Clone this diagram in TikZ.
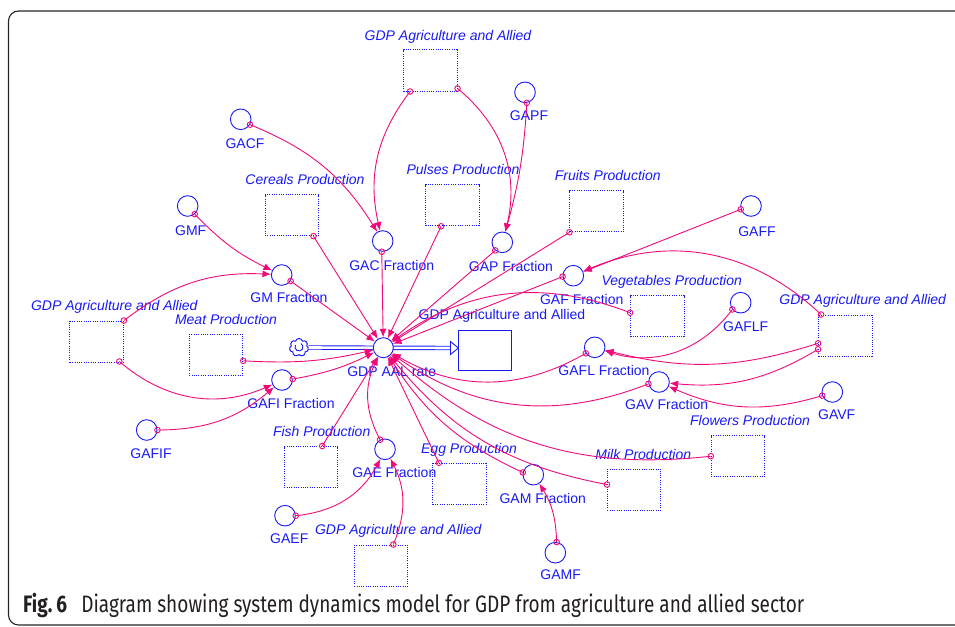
\documentclass[tikz,border=0pt]{standalone}
\usepackage{fontspec}
\setmainfont{Liberation Sans}
\newfontfamily\capfont[FakeStretch=0.8]{Fira Sans}
\usetikzlibrary{arrows.meta,calc,shapes.symbols}
\definecolor{vblue}{RGB}{25,25,245}
\definecolor{vpink}{RGB}{240,10,120}
\definecolor{capgray}{RGB}{35,31,32}

\begin{document}
\begin{tikzpicture}[x=1pt,y=1pt,
  lbl/.style={text=vblue, font=\fontsize{14}{16}\selectfont, inner sep=0pt,
    text height=0.716em, text depth=0pt, anchor=center, yshift=-1.5pt},
  ilbl/.style={lbl, font=\fontsize{14}{16}\selectfont\itshape},
  aux/.style={circle, draw=vblue, line width=0.9pt, minimum size=20.6pt, inner sep=0pt},
  srcbox/.style={draw=vblue, dash pattern=on 1pt off 1.3pt, line width=1pt,
    minimum width=53.5pt, minimum height=41pt, inner sep=0pt},
  conn/.style={draw=vpink, line width=0.9pt, -{Latex[length=8.5pt,width=7pt]}},
  port/.style={circle, draw=vpink, line width=0.9pt, minimum size=5.6pt, inner sep=0pt},
]
\path[use as bounding box] (0,0) rectangle (955,-626);
\clip (0,0) rectangle (955,-626);

% outer frame
\draw[line width=1.1pt, black!85, rounded corners=10pt] (8.5,-11) rectangle (990,-625);

% stock, its flow and the valve
\node[draw=vblue, line width=0.9pt, minimum width=53pt, minimum height=40.7pt, inner sep=0pt]
  (stock) at (484.8,-350.3) {};
\node[lbl] (stockl) at (502,-314) {GDP Agriculture and Allied};
\node[cloud, cloud puffs=7, draw=vblue, line width=1pt, minimum width=19pt, minimum height=18pt,
  inner sep=0pt] (src) at (299,-347.5) {};
\draw[vblue, line width=0.9pt] ($(src.center)+(-3.5,2.5)$) arc (150:420:4);
\coordinate (pipeend) at (450.5,-348);
\draw[vblue, line width=0.9pt, double=white, double distance=2.6pt] (src.east) -- (pipeend);
\draw[vblue, line width=0.9pt, fill=white] ($(pipeend)+(0,6.5)$) -- (458.3,-348) -- ($(pipeend)+(0,-6.5)$) -- cycle;
\node[aux, fill=white, minimum size=20pt] (valve) at (383.3,-347.7) {};
\node[lbl] (valvel) at (391.7,-371.7) {GDP AAL rate};

% auxiliaries
\node[aux] (gacf)   at (240.7,-119.3) {};  \node[lbl] at (245,-143.3) {GACF};
\node[aux] (gmf)    at (187.7,-206)   {};  \node[lbl] at (190.7,-230) {GMF};
\node[aux] (gmfr)   at (281.7,-275)   {};  \node[lbl] at (289,-297.7) {GM Fraction};
\node[aux] (gacfr)  at (382.7,-241)   {};  \node[lbl] at (391.7,-265) {GAC Fraction};
\node[aux] (gapf)   at (525,-92.3)    {};  \node[lbl] at (529,-115.7) {GAPF};
\node[aux] (gapfr)  at (502.3,-242.3) {};  \node[lbl] at (511,-266) {GAP Fraction};
\node[aux] (gaffr)  at (573.3,-275.7) {};  \node[lbl] at (581.7,-299) {GAF Fraction};
\node[aux] (gaff)   at (751,-206)     {};  \node[lbl] at (757,-231) {GAFF};
\node[aux] (gaflf)  at (740.7,-302.7) {};  \node[lbl] at (745.7,-326) {GAFLF};
\node[aux] (gaflfr) at (594.7,-347.3) {};  \node[lbl] at (604,-370) {GAFL Fraction};
\node[aux] (gavfr)  at (659,-382)     {};  \node[lbl] at (666.7,-404) {GAV Fraction};
\node[aux] (gavf)   at (832.3,-392)   {};  \node[lbl] at (836.7,-414.3) {GAVF};
\node[aux] (gafifr) at (282,-380)     {};  \node[lbl] at (291,-403) {GAFI Fraction};
\node[aux] (gafif)  at (146.7,-430)   {};  \node[lbl] at (151,-453.3) {GAFIF};
\node[aux] (gaefr)  at (385,-449.3)   {};  \node[lbl] at (394.3,-472.7) {GAE Fraction};
\node[aux] (gaef)   at (285,-515.7)   {};  \node[lbl] at (289.3,-538.3) {GAEF};
\node[aux] (gamfr)  at (533.3,-474.7) {};  \node[lbl] at (542.7,-498.3) {GAM Fraction};
\node[aux] (gamf)   at (555.3,-552.7) {};  \node[lbl] at (560.7,-574.3) {GAMF};

% source boxes (shadow variables)
\node[srcbox] (topbox)   at (430.3,-70.5)  {}; \node[ilbl] at (448,-35) {GDP Agriculture and Allied};
\node[srcbox] (cereals)  at (291.8,-215.2) {}; \node[ilbl] at (305,-179) {Cereals Production};
\node[srcbox] (pulses)   at (452.3,-205.3) {}; \node[ilbl] at (463,-169) {Pulses Production};
\node[srcbox] (fruits)   at (596.7,-211.3) {}; \node[ilbl] at (607.7,-175) {Fruits Production};
\node[srcbox] (veg)      at (657.3,-316.3) {}; \node[ilbl] at (671.7,-280) {Vegetables Production};
\node[srcbox] (rightbox) at (845.3,-335.5) {}; \node[ilbl] at (862.7,-299.3) {GDP Agriculture and Allied};
\node[srcbox] (flowers)  at (738,-456.2)   {}; \node[ilbl] at (750,-420) {Flowers Production};
\node[srcbox] (milk)     at (634.2,-489.5) {}; \node[ilbl] at (643.3,-454) {Milk Production};
\node[srcbox] (egg)      at (459.5,-483.8) {}; \node[ilbl] at (469,-448.3) {Egg Production};
\node[srcbox] (fish)     at (311.2,-467)   {}; \node[ilbl] at (321.7,-431) {Fish Production};
\node[srcbox] (botbox)   at (381,-565.5)   {}; \node[ilbl] at (398.3,-529) {GDP Agriculture and Allied};
\node[srcbox] (leftbox)  at (96.7,-341.5)  {}; \node[ilbl] at (114.3,-305) {GDP Agriculture and Allied};
\node[srcbox] (meat)     at (216,-354.8)   {}; \node[ilbl] at (226,-319.3) {Meat Production};

% connector origins
\coordinate (p1)  at ($(topbox.south west)+(7,0)$);
\coordinate (p2)  at ($(topbox.south east)+(0,3)$);
\coordinate (p3)  at (gapf.-80);
\coordinate (p4)  at (gacf.-30);
\coordinate (p5)  at (gmf.-49);
\coordinate (p6)  at (leftbox.north east);
\coordinate (p7)  at ($(leftbox.south east)+(-4.6,1)$);
\coordinate (p8)  at (gafif.0);
\coordinate (p9)  at ($(meat.east)+(0,-6)$);
\coordinate (p10) at (gafifr.5);
\coordinate (p11) at (gmfr.-34);
\coordinate (p12) at ($(cereals.south east)+(-5.6,0)$);
\coordinate (p13) at (gacfr.-95);
\coordinate (p14) at ($(pulses.south west)+(16,0)$);
\coordinate (p15) at (gapfr.-131);
\coordinate (p16) at (fruits.south west);
\coordinate (p17) at (gaffr.185);
\coordinate (p18) at (gaff.198);
\coordinate (p19) at ($(rightbox.north west)+(3,0)$);
\coordinate (p20) at ($(veg.west)+(0,3.6)$);
\coordinate (p21) at (gaflf.219);
\coordinate (p22) at ($(rightbox.west)+(0,-7.8)$);
\coordinate (p23) at ($(rightbox.west)+(0,-13.8)$);
\coordinate (p24) at (gavf.200);
\coordinate (p25) at (gaflfr.214);
\coordinate (p26) at (gavfr.190);
\coordinate (p27) at (flowers.west);
\coordinate (p28) at ($(milk.west)+(0,5)$);
\coordinate (p29) at (gamfr.168);
\coordinate (p30) at ($(egg.north west)+(6.6,0)$);
\coordinate (p31) at (gaefr.117);
\coordinate (p32) at ($(fish.north)+(11,0)$);
\coordinate (p33) at (gaef.0);
\coordinate (p34) at ($(botbox.north)+(12.3,0)$);
\coordinate (p35) at (gamf.83);

% connectors
\draw[conn] (p1)  to[bend right=25] (gacfr);
\draw[conn] (p2)  to[bend left=32]  (gapfr);
\draw[conn] (p3)  to[bend left=6]   (gapfr);
\draw[conn] (p4)  to[bend left=18]  (gacfr);
\draw[conn] (p5)  to[bend right=10] (gmfr);
\draw[conn] (p6)  to[bend left=20]  (gmfr);
\draw[conn] (p7)  to[bend right=32] (gafifr);
\draw[conn] (p8)  to[bend right=20] (gafifr);
\draw[conn] (p9)  to[bend right=8]  (valve);
\draw[conn] (p10) to[bend right=8]  (valve);
\draw[conn] (p11) -- (valve);
\draw[conn] (p12) -- (valve);
\draw[conn] (p13) -- (valve);
\draw[conn] (p14) -- (valve);
\draw[conn] (p15) -- (valve);
\draw[conn] (p16) -- (valve);
\draw[conn] (p17) -- (valve);
\draw[conn] (p18) -- (gaffr);
\draw[conn] (p19) to[bend right=33] (gaffr);
\draw[conn] (p20) to[bend right=28] (valve);
\draw[conn] (p21) to[bend left=35]  (gaflfr);
\draw[conn] (p22) to[bend left=16]  (gaflfr);
\draw[conn] (p23) to[bend left=18]  (gavfr);
\draw[conn] (p24) to[bend left=20]  (gavfr);
\draw[conn] (p25) to[bend left=30]  (valve);
\draw[conn] (p26) to[bend left=28]  (valve);
\draw[conn] (p27) to[bend left=24]  (valve);
\draw[conn] (p28) to[bend left=20]  (valve);
\draw[conn] (p29) to[bend left=16]  (valve);
\draw[conn] (p30) -- (valve);
\draw[conn] (p31) to[bend left=27]  (valve);
\draw[conn] (p32) -- (valve);
\draw[conn] (p33) to[bend right=28] (gaefr);
\draw[conn] (p34) to[bend right=25] (gaefr);
\draw[conn] (p35) to[bend right=15] (gamfr);

% small rings marking where each connector leaves its source
\foreach \p in {p1,p2,p3,p4,p5,p6,p7,p8,p9,p10,p11,p12,p13,p14,p15,p16,p17,p18,p19,p20,
  p21,p22,p23,p24,p25,p26,p27,p28,p29,p30,p31,p32,p33,p34,p35}
  \node[port] at (\p) {};

% caption
\node[anchor=base west, inner sep=0pt, text=capgray] (cap) at (23,-612)
  {\resizebox{781pt}{!}{\capfont\fontsize{19}{22}\selectfont\textbf{Fig.\,6}\hspace{0.6em}Diagram showing system dynamics model for GDP from agriculture and allied sector}};
\end{tikzpicture}
\end{document}
